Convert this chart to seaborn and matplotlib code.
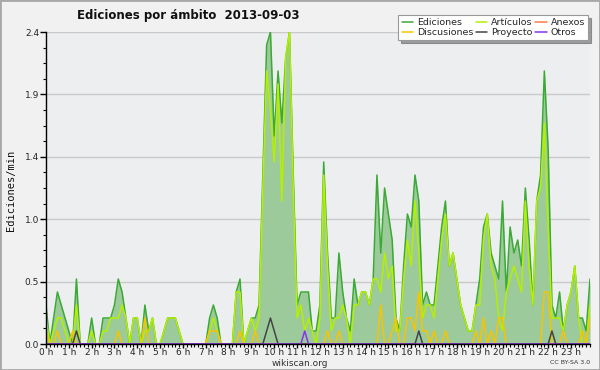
import matplotlib
matplotlib.use("Agg")
import matplotlib.pyplot as plt
import seaborn as sns
import pandas as pd
import numpy as np
from matplotlib.ticker import FixedLocator, MultipleLocator, FormatStrFormatter
from matplotlib.patches import Rectangle

# ediciones por intervalo de 10 minutos (144 intervalos, 2013-09-03)
ediciones = [3,0,2,4,3,2,1,0,5,0,0,0,2,0,0,2,2,2,3,5,4,2,0,2,
             2,0,3,1,2,0,0,1,2,2,2,1,0,0,0,0,0,0,0,2,3,2,0,0,
             0,0,4,5,0,1,2,2,3,13,23,24,16,21,17,22,24,13,3,4,4,4,1,1,
             3,14,7,2,2,7,4,2,1,5,3,4,4,3,5,13,7,12,10,8,2,1,6,10,
             9,13,11,3,4,3,3,6,9,11,6,7,5,3,2,1,1,3,5,9,10,7,6,5,
             11,4,9,7,8,6,12,8,3,11,13,21,15,3,2,4,1,3,4,6,2,2,1,5]
articulos = [2,0,1,2,2,1,0,0,3,0,0,0,1,0,0,1,1,2,2,2,3,2,0,2,
             2,0,1,1,2,0,0,1,2,2,2,1,0,0,0,0,0,0,0,1,2,1,0,0,
             0,0,4,4,0,1,2,1,2,12,21,18,14,20,11,22,24,12,2,3,1,2,1,0,
             2,13,6,1,2,2,3,2,0,3,3,4,4,3,5,5,4,7,5,6,1,1,5,8,
             6,11,7,2,3,3,2,5,8,10,6,7,5,3,2,1,1,3,3,8,10,6,5,2,
             1,4,5,6,5,4,11,6,3,11,12,17,9,2,2,2,1,3,4,6,2,0,0,3]
discusiones = [1,0,0,1,0,0,0,1,0,0,0,0,0,0,0,0,0,0,0,1,0,0,0,0,
               0,0,2,0,0,0,0,0,0,0,0,0,0,0,0,0,0,0,0,1,1,1,0,0,
               0,0,0,1,0,0,0,1,0,0,0,0,0,0,0,0,0,0,0,0,0,0,0,0,
               0,0,1,0,0,1,0,0,0,0,0,0,0,0,0,0,3,0,0,1,2,0,0,2,
               2,1,4,1,1,0,1,0,0,1,0,0,0,0,0,0,0,1,0,2,0,1,0,2,
               2,0,0,0,0,0,0,0,0,0,0,4,4,0,0,0,1,0,0,0,0,1,0,2]
proyecto = [0,0,0,0,0,0,0,0,1,0,0,0,0,0,0,0,0,0,0,0,0,0,0,0,
            0,0,0,0,0,0,0,0,0,0,0,0,0,0,0,0,0,0,0,0,0,0,0,0,
            0,0,0,0,0,0,0,0,0,0,1,2,1,0,0,0,0,0,0,0,0,0,0,0,
            0,0,0,0,0,0,0,0,0,0,0,0,0,0,0,0,0,0,0,0,0,0,0,0,
            0,0,1,0,0,0,0,0,0,0,0,0,0,0,0,0,0,0,0,0,0,0,0,0,
            0,0,0,0,0,0,0,0,0,0,0,0,0,1,0,0,0,0,0,0,0,0,0,0]
otros = [0]*68 + [1] + [0]*75
anexos = [0]*144
hour_labels = [f"{h} h" for h in range(24)]

df = pd.DataFrame({
    "hora": np.arange(144) / 6,
    "Ediciones": np.array(ediciones) / 10,
    "Artículos": np.array(articulos) / 10,
    "Discusiones": np.array(discusiones) / 10,
    "Anexos": np.array(anexos) / 10,
    "Proyecto": np.array(proyecto) / 10,
    "Otros": np.array(otros) / 10,
})

sns.set_style("white")
plt.rcParams["font.family"] = ["DejaVu Sans"]

fig = plt.figure(figsize=(6, 3.7), dpi=100, facecolor="#f1f1f1")
ax = fig.add_axes([46/600, 26/370, 544/600, 312/370])
ax.set_facecolor("#edeef0")

ax.fill_between(df["hora"], df["Ediciones"], color="#9dca9b", lw=0, zorder=1.5)
colors = {"Ediciones": "#3aaa35", "Artículos": "#b4f000", "Discusiones": "#f7c400",
          "Anexos": "#ff7a45", "Proyecto": "#444444", "Otros": "#8833ee"}
for name in ["Ediciones", "Artículos", "Discusiones", "Anexos", "Proyecto", "Otros"]:
    sns.lineplot(data=df, x="hora", y=name, color=colors[name], lw=1.1,
                 label=name, ax=ax, zorder=2)

ax.set_xlim(0, 143/6)
ax.set_ylim(0, 2.4)
ax.yaxis.set_major_locator(FixedLocator([0, 0.48, 0.96, 1.44, 1.92, 2.4]))
ax.yaxis.set_minor_locator(MultipleLocator(0.12))
ax.yaxis.set_major_formatter(FormatStrFormatter("%.1f"))
ax.set_xticks(range(24))
ax.set_xticklabels(hour_labels)
ax.xaxis.set_minor_locator(MultipleLocator(1/6))
ax.yaxis.grid(True, color="#cacaca", lw=1)
ax.set_axisbelow(True)
ax.set_xlabel("")
ax.set_ylabel("")

for s in ["top", "right"]:
    ax.spines[s].set_visible(False)
for s in ["left", "bottom"]:
    ax.spines[s].set_color("black")
    ax.spines[s].set_linewidth(1)
ax.tick_params(axis="y", which="major", direction="out", length=4, width=1, color="black",
               labelsize=6.5, pad=1, left=True)
ax.tick_params(axis="y", which="minor", direction="out", length=2.5, width=0.8, color="black",
               left=True)
ax.tick_params(axis="x", which="major", direction="out", length=3, width=1, color="black",
               labelsize=6.5, pad=0, bottom=True)
ax.tick_params(axis="x", which="minor", direction="out", length=2.5, width=0.8, color="black",
               bottom=True)

handles, labels = ax.get_legend_handles_labels()
order = ["Ediciones", "Discusiones", "Artículos", "Proyecto", "Anexos", "Otros"]
h = [handles[labels.index(n)] for n in order]
leg = ax.legend(h, order, ncol=3, loc="upper right", bbox_to_anchor=(593/600, 1 - 10/370),
                bbox_transform=fig.transFigure, fontsize=6.8, frameon=True, fancybox=False,
                shadow=True, handlelength=1.2, handletextpad=0.4, columnspacing=0.3,
                labelspacing=0.1, borderpad=0.35, edgecolor="#999999")
leg.get_frame().set_linewidth(0.8)

fig.text(188/600, 1 - 16/370, "Ediciones por ámbito  2013-09-03", ha="center", va="center",
         fontsize=8.5, fontweight="bold", color="#111111")
fig.text(11/600, 1 - 190/370, "Ediciones/min", rotation=90, ha="center", va="center",
         fontsize=7.5, family="DejaVu Sans Mono", color="#111111")
fig.text(300/600, 7/370, "wikiscan.org", ha="center", va="center", fontsize=6.5, color="#333333")
fig.text(590/600, 7/370, "CC BY-SA 3.0", ha="right", va="center", fontsize=4.5, color="#333333")
fig.patches.append(Rectangle((0, 0), 1, 1, transform=fig.transFigure, fill=False,
                             edgecolor="#a8a8a8", lw=2))

fig.savefig("out.png", dpi=100, facecolor=fig.get_facecolor())
